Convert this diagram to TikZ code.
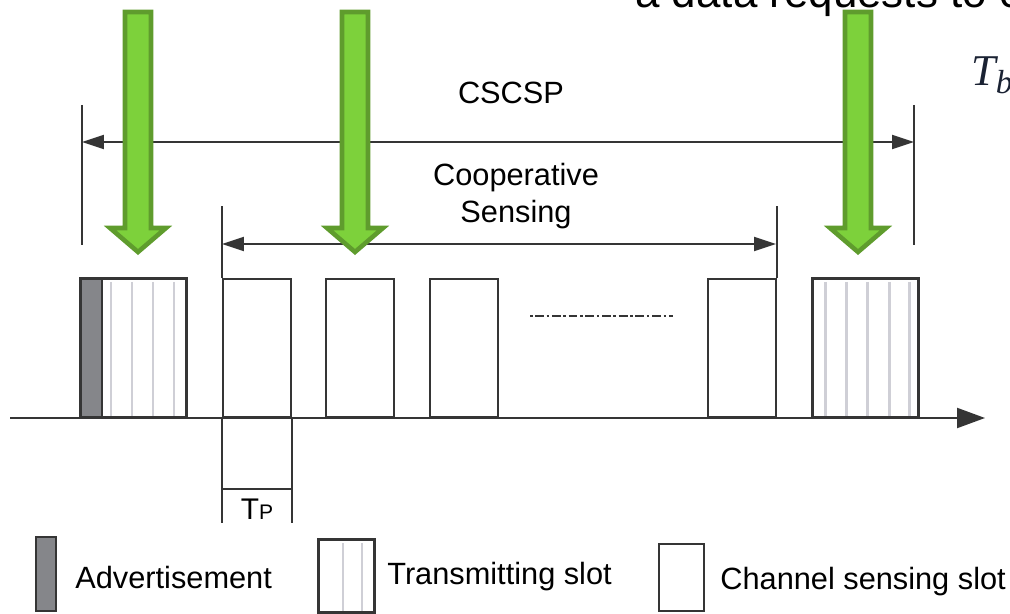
\documentclass[tikz,border=0pt]{standalone}
\usepackage{fontspec}
\setsansfont{Liberation Sans}
\newfontfamily\serifit{Liberation Serif}
\usetikzlibrary{arrows.meta, positioning}
\definecolor{ink}{HTML}{353535}
\definecolor{stripegray}{HTML}{CFCFD6}
\definecolor{advgray}{HTML}{85868A}
\definecolor{leafgreen}{HTML}{7DD13B}
\definecolor{darkgreen}{HTML}{5F9C2D}
\definecolor{symblue}{HTML}{1A2233}
\tikzset{
  slot/.style={
    rectangle, draw=ink, fill=white, line width=1.1pt,
    minimum width=1.36cm, minimum height=2.76cm,
    inner sep=0pt, anchor=south west
  },
  txslot/.style={slot, minimum width=2.1cm},
  advbox/.style={slot, fill=advgray, minimum width=0.42cm},
  stripe/.style={draw=stripegray, line width=1.7pt},
  bound/.style={draw=ink, line width=1.1pt},
  dimarrow/.style={{Triangle[length=0.44cm,width=0.28cm]}-{Triangle[length=0.44cm,width=0.28cm]},
                   draw=ink, line width=1.1pt},
  timeaxis/.style={-{Triangle[length=0.56cm,width=0.4cm]}, draw=ink, line width=1.2pt},
  greenarrow/.style={fill=leafgreen, draw=darkgreen, line width=2.6pt, line join=miter},
  label/.style={font=\sffamily\fontsize{17.5}{21}\selectfont, align=center, inner sep=0pt},
  legend/.style={label, anchor=west},
}

\begin{document}
\begin{tikzpicture}[x=0.02cm, y=-0.02cm]
  \useasboundingbox (0,0) rectangle (1010,614);
  \clip (0,0) rectangle (1010,614);

  % cut-off caption and symbol at the edges
  \node[anchor=base west, inner sep=0pt, font=\sffamily\fontsize{25}{30}\selectfont]
    (caption) at (635,8) {a data requests to c};
  \node[anchor=base west, inner sep=0pt, text=symblue]
    (tb) at (971,86) {\serifit\itshape\fontsize{25}{28}\selectfont T\raisebox{-4pt}{\fontsize{19}{20}\selectfont b}};

  % time axis
  \coordinate (axL) at (10,418);
  \coordinate (axR) at (985,418);
  \draw[timeaxis] (axL) -- (axR);

  % transmitting slots
  \node[txslot] (tx1) at (80,418) {};
  \foreach \x in {111,132,153,174}
    \draw[stripe] (\x,282) -- (\x,416);
  \node[advbox] (adv) at (80,418) {};
  \node[txslot] (tx2) at (812,418) {};
  \foreach \x in {825,846,867,889,909}
    \draw[stripe] (\x,282) -- (\x,416);
  \draw[line width=1.1pt, draw=ink] (tx1.south west) rectangle (tx1.north east);
  \draw[line width=1.1pt, draw=ink] (tx2.south west) rectangle (tx2.north east);

  % channel sensing slots
  \node[slot] (s1) at (222,418) {};
  \node[slot] (s2) at (325,418) {};
  \node[slot] (s3) at (429,418) {};
  \node[slot] (s4) at (707,418) {};
  \draw[ink, line width=1.2pt, dash pattern=on 1.5pt off 1.5pt on 5pt off 1.5pt]
    (530,316) -- (673,316);

  % Tp
  \draw[bound] (s1.south west) -- ++(0,105);
  \draw[bound] (s1.south east) -- ++(0,105);
  \draw[bound] ([yshift=-1.42cm]s1.south west) -- ([yshift=-1.42cm]s1.south east);
  \node[inner sep=0pt, font=\sffamily] (tp) at ([yshift=-1.82cm]s1.south)
    {\fontsize{17}{17}\selectfont T\fontsize{12}{12}\selectfont P};

  % cooperative sensing
  \draw[bound] (s1.north west) -- ++(0,-72);
  \draw[bound] (s4.north east) -- ++(0,-72);
  \coordinate (coopL) at (222,244);
  \coordinate (coopR) at (776,244);
  \draw[dimarrow] (coopL) -- (coopR);
  \node[label] (coop) at (516,196) {Cooperative\\Sensing};

  % CSCSP
  \draw[bound] (82,105) -- (82,245);
  \draw[bound] (914,105) -- (914,245);
  \coordinate (cscspL) at (82,142);
  \coordinate (cscspR) at (914,142);
  \draw[dimarrow] (cscspL) -- (cscspR);
  \node[label] (cscsp) at (511,93) {CSCSP};

  % green arrows
  \foreach \c in {138,355,858}
    \draw[greenarrow] (\c-13,12) -- (\c+13,12) -- (\c+13,228) -- (\c+28,228)
      -- (\c,252) -- (\c-28,228) -- (\c-13,228) -- cycle;

  % legend
  \node[advbox, minimum width=0.4cm, minimum height=1.48cm] (advkey) at (35,612) {};
  \node[legend] (advtext) at (75,578) {Advertisement};
  \node[txslot, minimum width=1.1cm, minimum height=1.44cm] (txkey) at (318,613) {};
  \foreach \x in {343,362}
    \draw[stripe, line width=1.2pt] (\x,543) -- (\x,611);
  \draw[line width=1.1pt, draw=ink] (txkey.south west) rectangle (txkey.north east);
  \node[legend] (txtext) at (387,577) {Transmitting slot};
  \node[slot, minimum width=0.9cm, minimum height=1.34cm] (cskey) at (658,612) {};
  \node[legend] (cstext) at (720,582) {Channel sensing slot};
\end{tikzpicture}
\end{document}
